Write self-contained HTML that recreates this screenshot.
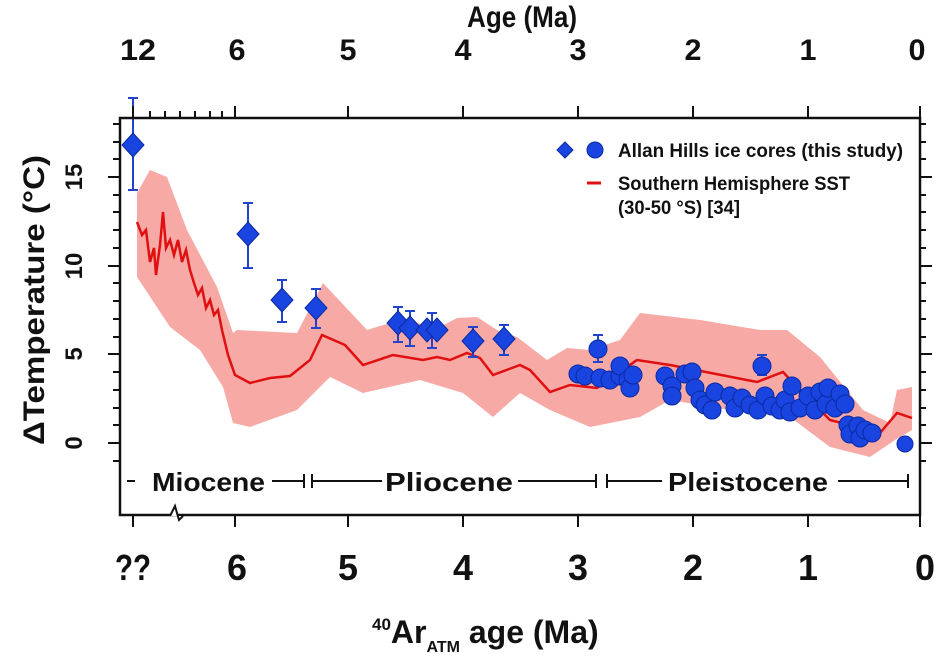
<!DOCTYPE html>
<html><head><meta charset="utf-8"><style>
html,body{margin:0;padding:0;background:#fff;}
svg{display:block;}
text{font-family:"Liberation Sans",sans-serif;font-weight:bold;fill:#111;}
</style></head><body>
<svg width="940" height="659" viewBox="0 0 940 659" xmlns="http://www.w3.org/2000/svg">
<!-- band -->
<polygon fill="#f7a9a6" points="137,193 150,170 167,177 187,230 217,287 233,333 237,330 297,333 323,283 367,330 390,323 417,323 440,327 457,318 477,317 497,330 517,337 547,360 567,348 590,350 620,340 640,313 700,320 760,330 787,330 820,357 863,410 890,423 897,390 912,387 912,430 895,440 870,457 830,447 790,417 730,410 670,400 640,417 590,427 550,410 520,393 493,417 463,393 420,380 363,393 330,377 297,410 250,427 233,423 223,387 200,350 170,327 137,277"/>
<!-- red line -->
<polyline fill="none" stroke="#e01010" stroke-width="2.5" points="137,222 142,235 146,230 150,262 154,248 156,275 160,245 163,212 166,248 170,240 174,255 178,240 182,262 186,250 190,270 194,283 198,295 202,288 206,308 210,300 214,315 218,310 222,330 228,355 235,375 250,383 270,378 290,376 310,360 322,335 345,345 363,365 393,355 423,360 437,357 450,360 467,353 480,358 493,375 520,365 530,370 550,392 570,385 597,388 637,360 670,365 757,382 783,372 797,387 830,420 880,433 897,413 912,418"/>
<!-- error bars -->
<g stroke="#2244cc" stroke-width="2" fill="none">
<path d="M133,98V190M128,98h10M128,190h10"/>
<path d="M248,203V268M243,203h10M243,268h10"/>
<path d="M282,280V322M277,280h10M277,322h10"/>
<path d="M316,289V328M311,289h10M311,328h10"/>
<path d="M398,307V342M393,307h10M393,342h10"/>
<path d="M410,311V346M405,311h10M405,346h10"/>
<path d="M432,313V348M427,313h10M427,348h10"/>
<path d="M473,327V357M468,327h10M468,357h10"/>
<path d="M504,325V355M499,325h10M499,355h10"/>
<path d="M598,335V362M593,335h10M593,362h10"/>
<path d="M762,355V375M757,355h10M757,375h10"/>
</g>
<g fill="#1a44e0" stroke="#0a2aa0" stroke-width="1">
<polygon points="133,133 144,145 133,157 122,145"/>
<polygon points="248,222 259,234 248,246 237,234"/>
<polygon points="282,288 293,300 282,312 271,300"/>
<polygon points="316,296 327,308 316,320 305,308"/>
<polygon points="398,311 409,323 398,335 387,323"/>
<polygon points="410,316 421,328 410,340 399,328"/>
<polygon points="427,318 438,330 427,342 416,330"/>
<polygon points="437,318 448,330 437,342 426,330"/>
<polygon points="473,329 484,341 473,353 462,341"/>
<polygon points="504,327 515,339 504,351 493,339"/>
<polygon points="565,142 573,150 565,158 557,150"/>
<circle cx="595" cy="150" r="8"/>
</g>
<g fill="#1a44e0" stroke="#0a2aa0" stroke-width="1">
<circle cx="578" cy="374" r="9"/><circle cx="585" cy="376" r="9"/><circle cx="598" cy="349" r="9"/>
<circle cx="600" cy="378" r="9"/><circle cx="610" cy="380" r="9"/><circle cx="620" cy="376" r="9"/>
<circle cx="620" cy="366" r="9"/><circle cx="628" cy="380" r="9"/><circle cx="630" cy="388" r="9"/>
<circle cx="633" cy="375" r="9"/><circle cx="665" cy="376" r="9"/><circle cx="672" cy="386" r="9"/>
<circle cx="672" cy="396" r="9"/><circle cx="685" cy="374" r="9"/><circle cx="692" cy="372" r="9"/>
<circle cx="695" cy="388" r="9"/><circle cx="700" cy="400" r="9"/><circle cx="705" cy="405" r="9"/>
<circle cx="712" cy="410" r="9"/><circle cx="715" cy="392" r="9"/><circle cx="730" cy="396" r="9"/>
<circle cx="735" cy="408" r="9"/><circle cx="742" cy="398" r="9"/><circle cx="750" cy="405" r="9"/>
<circle cx="758" cy="410" r="9"/><circle cx="762" cy="366" r="9"/><circle cx="765" cy="396" r="9"/>
<circle cx="772" cy="406" r="9"/><circle cx="780" cy="410" r="9"/><circle cx="785" cy="400" r="9"/>
<circle cx="790" cy="412" r="9"/><circle cx="792" cy="386" r="9"/><circle cx="800" cy="408" r="9"/>
<circle cx="808" cy="396" r="9"/><circle cx="815" cy="410" r="9"/><circle cx="820" cy="392" r="9"/>
<circle cx="826" cy="404" r="9"/><circle cx="828" cy="388" r="9"/><circle cx="835" cy="408" r="9"/>
<circle cx="840" cy="394" r="9"/><circle cx="845" cy="404" r="9"/><circle cx="848" cy="425" r="9"/>
<circle cx="850" cy="434" r="9"/><circle cx="858" cy="426" r="9"/><circle cx="860" cy="438" r="9"/>
<circle cx="865" cy="430" r="9"/><circle cx="872" cy="433" r="9"/><circle cx="905" cy="444" r="8"/>
</g>
<!-- axes -->
<g stroke="#111" stroke-width="2.5" fill="none">
<rect x="120" y="118" width="800" height="397"/>
</g>
<g stroke="#111" stroke-width="2">
<path d="M108,443h12M108,354h12M108,266h12M108,177h12"/>
<path d="M113,461h7M113,425h7M113,408h7M113,390h7M113,372h7M113,337h7M113,319h7M113,301h7M113,283h7M113,248h7M113,230h7M113,212h7M113,195h7M113,159h7M113,142h7M113,124h7"/>
<path d="M920,443h12M920,354h12M920,266h12M920,177h12"/>
<path d="M920,461h6M920,425h6M920,408h6M920,390h6M920,372h6M920,337h6M920,319h6M920,301h6M920,283h6M920,248h6M920,230h6M920,212h6M920,195h6M920,159h6M920,142h6M920,124h6"/>
<path d="M133,118v-12M235,118v-12M348,118v-12M463,118v-12M578,118v-12M693,118v-12M808,118v-12M920,118v-12"/>
<path d="M150,118v-7M165,118v-7M180,118v-7M195,118v-7M210,118v-7M222,118v-7"/>
<path d="M133,515v12M235,515v12M348,515v12M463,515v12M578,515v12M693,515v12M808,515v12M920,515v12"/>
</g>
<path d="M170,516l5,-10l4,14l4,-4" stroke="#111" stroke-width="2" fill="#fff"/>
<!-- epoch bars -->
<g stroke="#111" stroke-width="2">
<path d="M127,481h8M272,481h32M304,474v14M312,474v14M312,481h70M518,481h78M596,474v14M607,474v14M607,481h55M838,481h70M908,474v14"/>
</g>
<g font-size="26">
<text x="152" y="491" textLength="113" lengthAdjust="spacingAndGlyphs">Miocene</text>
<text x="385" y="491" textLength="128" lengthAdjust="spacingAndGlyphs">Pliocene</text>
<text x="668" y="491" textLength="160" lengthAdjust="spacingAndGlyphs">Pleistocene</text>
</g>
<!-- labels -->
<text x="467" y="27" font-size="30" textLength="110" lengthAdjust="spacingAndGlyphs">Age (Ma)</text>
<g font-size="30" text-anchor="middle">
<text x="138" y="60" textLength="36" lengthAdjust="spacingAndGlyphs">12</text><text x="237" y="60" textLength="17" lengthAdjust="spacingAndGlyphs">6</text><text x="348" y="60" textLength="17" lengthAdjust="spacingAndGlyphs">5</text><text x="463" y="60" textLength="17" lengthAdjust="spacingAndGlyphs">4</text><text x="578" y="60" textLength="17" lengthAdjust="spacingAndGlyphs">3</text><text x="693" y="60" textLength="17" lengthAdjust="spacingAndGlyphs">2</text><text x="808" y="60" textLength="17" lengthAdjust="spacingAndGlyphs">1</text><text x="917" y="60" textLength="17" lengthAdjust="spacingAndGlyphs">0</text>
</g>
<g font-size="36" text-anchor="middle">
<text x="133" y="580" textLength="36" lengthAdjust="spacingAndGlyphs">??</text><text x="237" y="580" textLength="20" lengthAdjust="spacingAndGlyphs">6</text><text x="348" y="580" textLength="20" lengthAdjust="spacingAndGlyphs">5</text><text x="463" y="580" textLength="20" lengthAdjust="spacingAndGlyphs">4</text><text x="578" y="580" textLength="20" lengthAdjust="spacingAndGlyphs">3</text><text x="693" y="580" textLength="20" lengthAdjust="spacingAndGlyphs">2</text><text x="808" y="580" textLength="20" lengthAdjust="spacingAndGlyphs">1</text><text x="925" y="580" textLength="20" lengthAdjust="spacingAndGlyphs">0</text>
</g>
<g font-size="24" text-anchor="middle">
<text transform="translate(82,443) rotate(-90)">0</text>
<text transform="translate(82,354) rotate(-90)">5</text>
<text transform="translate(82,266) rotate(-90)">10</text>
<text transform="translate(82,177) rotate(-90)">15</text>
</g>
<text transform="translate(44,445) rotate(-90)" font-size="30" textLength="290" lengthAdjust="spacingAndGlyphs">ΔTemperature (°C)</text>
<text x="372" y="643" font-size="32"><tspan font-size="17" dy="-13">40</tspan><tspan dy="13">Ar</tspan><tspan font-size="16" dy="9">ATM</tspan><tspan dy="-9"> age (Ma)</tspan></text>
<!-- legend -->
<g font-size="19">
<text x="618" y="157" textLength="285" lengthAdjust="spacingAndGlyphs">Allan Hills ice cores (this study)</text>
<text x="618" y="190" textLength="232" lengthAdjust="spacingAndGlyphs">Southern Hemisphere SST</text>
<text x="618" y="214" textLength="122" lengthAdjust="spacingAndGlyphs">(30-50 °S) [34]</text>
</g>
<path d="M587,183h14" stroke="#e01010" stroke-width="3"/>
</svg>
</body></html>
